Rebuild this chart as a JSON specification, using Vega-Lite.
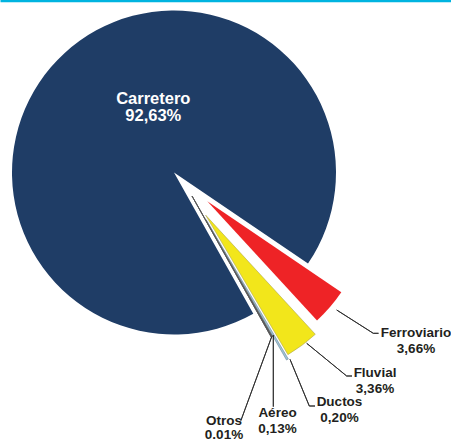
{
  "$schema": "https://vega.github.io/schema/vega-lite/v6.json",
  "width": 451,
  "height": 441,
  "padding": 0,
  "autosize": {"type": "none"},
  "background": "white",
  "config": {"view": {"stroke": null}, "text": {"font": "Liberation Sans"}},
  "data": {
    "values": [
      {"modo": "Carretero", "valor": 92.63, "etiqueta": "Carretero\n92,63%"},
      {"modo": "Ferroviario", "valor": 3.66, "etiqueta": "Ferroviario\n3,66%"},
      {"modo": "Fluvial", "valor": 3.36, "etiqueta": "Fluvial\n3,36%"},
      {"modo": "Ductos", "valor": 0.20, "etiqueta": "Ductos\n0,20%"},
      {"modo": "Aéreo", "valor": 0.13, "etiqueta": "Aéreo\n0,13%"},
      {"modo": "Otros", "valor": 0.01, "etiqueta": "Otros\n0.01%"}
    ]
  },
  "transform": [
    {"stack": "valor", "groupby": [], "sort": [{"field": "valor", "order": "descending"}], "as": ["t0", "t1"]}
  ],
  "layer": [
    {
      "mark": {"type": "point", "opacity": 0},
      "encoding": {
        "x": {"field": "valor", "type": "quantitative", "axis": {"orient": "top", "domain": true, "domainColor": "#00b4e0", "domainWidth": 3.5, "ticks": false, "labels": false, "grid": false, "title": null}}
      }
    },
    {
      "transform": [{"filter": "datum.modo == 'Carretero'"}],
      "mark": {"type": "arc", "radius": 162, "xOffset": -51.5, "yOffset": -48},
      "encoding": {
        "theta": {"field": "t0", "type": "quantitative", "stack": null, "scale": {"domain": [0, 99.99], "range": [2.630, 8.913185]}},
        "theta2": {"field": "t1"},
        "color": {"field": "modo", "type": "nominal", "legend": null, "scale": {"domain": ["Carretero", "Ferroviario", "Fluvial", "Ductos", "Aéreo", "Otros"], "range": ["#1f3d66", "#ee2326", "#f2e61b", "#9fc5d8", "#5a5a5a", "#9a9a9a"]}}
      }
    },
    {
      "transform": [{"filter": "datum.modo == 'Ferroviario'"}],
      "mark": {"type": "arc", "radius": 162, "xOffset": -18.2, "yOffset": -19.3},
      "encoding": {
        "theta": {"field": "t0", "type": "quantitative", "stack": null, "scale": {"domain": [0, 99.99], "range": [2.630, 8.913185]}},
        "theta2": {"field": "t1"},
        "color": {"field": "modo", "type": "nominal", "legend": null, "scale": {"domain": ["Carretero", "Ferroviario", "Fluvial", "Ductos", "Aéreo", "Otros"], "range": ["#1f3d66", "#ee2326", "#f2e61b", "#9fc5d8", "#5a5a5a", "#9a9a9a"]}}
      }
    },
    {
      "transform": [{"filter": "datum.modo == 'Fluvial'"}],
      "mark": {"type": "arc", "radius": 162, "xOffset": -19.9, "yOffset": -5.4, "stroke": "#a09a55", "strokeWidth": 0.5},
      "encoding": {
        "theta": {"field": "t0", "type": "quantitative", "stack": null, "scale": {"domain": [0, 99.99], "range": [2.630, 8.913185]}},
        "theta2": {"field": "t1"},
        "color": {"field": "modo", "type": "nominal", "legend": null, "scale": {"domain": ["Carretero", "Ferroviario", "Fluvial", "Ductos", "Aéreo", "Otros"], "range": ["#1f3d66", "#ee2326", "#f2e61b", "#9fc5d8", "#5a5a5a", "#9a9a9a"]}}
      }
    },
    {
      "transform": [{"filter": "datum.modo == 'Ductos'"}],
      "mark": {"type": "arc", "radius": 162, "xOffset": -19.5, "yOffset": -1, "stroke": "#6b8594", "strokeWidth": 0.6},
      "encoding": {
        "theta": {"field": "t0", "type": "quantitative", "stack": null, "scale": {"domain": [0, 99.99], "range": [2.630, 8.913185]}},
        "theta2": {"field": "t1"},
        "color": {"field": "modo", "type": "nominal", "legend": null, "scale": {"domain": ["Carretero", "Ferroviario", "Fluvial", "Ductos", "Aéreo", "Otros"], "range": ["#1f3d66", "#ee2326", "#f2e61b", "#9fc5d8", "#5a5a5a", "#9a9a9a"]}}
      }
    },
    {
      "transform": [{"filter": "datum.modo == 'Aéreo' || datum.modo == 'Otros'"}],
      "mark": {"type": "arc", "radius": 162, "xOffset": -33.5, "yOffset": -24.5, "stroke": "#555555", "strokeWidth": 0.7},
      "encoding": {
        "theta": {"field": "t0", "type": "quantitative", "stack": null, "scale": {"domain": [0, 99.99], "range": [2.630, 8.913185]}},
        "theta2": {"field": "t1"},
        "color": {"field": "modo", "type": "nominal", "legend": null, "scale": {"domain": ["Carretero", "Ferroviario", "Fluvial", "Ductos", "Aéreo", "Otros"], "range": ["#1f3d66", "#ee2326", "#f2e61b", "#9fc5d8", "#5a5a5a", "#9a9a9a"]}}
      }
    },
    {
      "transform": [{"filter": "datum.modo == 'Ferroviario'"}],
      "mark": {"type": "arc", "radius": 43.4, "radius2": 0, "theta": 2.138, "theta2": 2.138, "xOffset": 111.2, "yOffset": 89.5, "fillOpacity": 0, "stroke": "#2b2b2b", "strokeWidth": 0.9},
      "encoding": {}
    },
    {
      "transform": [{"filter": "datum.modo == 'Ferroviario'"}],
      "mark": {"type": "arc", "radius": 5.2, "radius2": 0, "theta": 1.5708, "theta2": 1.5708, "xOffset": 147.8, "yOffset": 112.8, "fillOpacity": 0, "stroke": "#2b2b2b", "strokeWidth": 0.9},
      "encoding": {}
    },
    {
      "transform": [{"filter": "datum.modo == 'Fluvial'"}],
      "mark": {"type": "arc", "radius": 51.7, "radius2": 0, "theta": 2.2567, "theta2": 2.2567, "xOffset": 81.2, "yOffset": 122.8, "fillOpacity": 0, "stroke": "#2b2b2b", "strokeWidth": 0.9},
      "encoding": {}
    },
    {
      "transform": [{"filter": "datum.modo == 'Fluvial'"}],
      "mark": {"type": "arc", "radius": 5.3, "radius2": 0, "theta": 1.5708, "theta2": 1.5708, "xOffset": 121.2, "yOffset": 155.5, "fillOpacity": 0, "stroke": "#2b2b2b", "strokeWidth": 0.9},
      "encoding": {}
    },
    {
      "transform": [{"filter": "datum.modo == 'Ductos'"}],
      "mark": {"type": "arc", "radius": 50.5, "radius2": 0, "theta": 2.7498, "theta2": 2.7498, "xOffset": 64.5, "yOffset": 138.8, "fillOpacity": 0, "stroke": "#2b2b2b", "strokeWidth": 0.9},
      "encoding": {}
    },
    {
      "transform": [{"filter": "datum.modo == 'Ductos'"}],
      "mark": {"type": "arc", "radius": 5.7, "radius2": 0, "theta": 1.5708, "theta2": 1.5708, "xOffset": 83.8, "yOffset": 185.5, "fillOpacity": 0, "stroke": "#2b2b2b", "strokeWidth": 0.9},
      "encoding": {}
    },
    {
      "transform": [{"filter": "datum.modo == 'Aéreo'"}],
      "mark": {"type": "arc", "radius": 71.7, "radius2": 0, "theta": 3.1416, "theta2": 3.1416, "xOffset": 47.8, "yOffset": 114.5, "fillOpacity": 0, "stroke": "#2b2b2b", "strokeWidth": 0.9},
      "encoding": {}
    },
    {
      "transform": [{"filter": "datum.modo == 'Otros'"}],
      "mark": {"type": "arc", "radius": 89.5, "radius2": 0, "theta": 3.4937, "theta2": 3.4937, "xOffset": 46.2, "yOffset": 116.2, "fillOpacity": 0, "stroke": "#2b2b2b", "strokeWidth": 0.9},
      "encoding": {}
    },
    {
      "transform": [{"filter": "datum.modo == 'Carretero'"}],
      "mark": {"type": "text", "lineBreak": "\n", "align": "center", "baseline": "alphabetic", "fontSize": 16.5, "fontWeight": "bold", "lineHeight": 17, "color": "white", "xOffset": -72.2, "yOffset": -116.5},
      "encoding": {"text": {"field": "etiqueta"}}
    },
    {
      "transform": [{"filter": "datum.modo == 'Ferroviario'"}],
      "mark": {"type": "text", "lineBreak": "\n", "align": "center", "baseline": "alphabetic", "fontSize": 13.5, "fontWeight": "bold", "lineHeight": 15.5, "color": "#231f20", "xOffset": 190.5, "yOffset": 116.5},
      "encoding": {"text": {"field": "etiqueta"}}
    },
    {
      "transform": [{"filter": "datum.modo == 'Fluvial'"}],
      "mark": {"type": "text", "lineBreak": "\n", "align": "center", "baseline": "alphabetic", "fontSize": 13.5, "fontWeight": "bold", "lineHeight": 16, "color": "#231f20", "xOffset": 149.5, "yOffset": 156.5},
      "encoding": {"text": {"field": "etiqueta"}}
    },
    {
      "transform": [{"filter": "datum.modo == 'Ductos'"}],
      "mark": {"type": "text", "lineBreak": "\n", "align": "center", "baseline": "alphabetic", "fontSize": 13.5, "fontWeight": "bold", "lineHeight": 15.7, "color": "#231f20", "xOffset": 114, "yOffset": 185.5},
      "encoding": {"text": {"field": "etiqueta"}}
    },
    {
      "transform": [{"filter": "datum.modo == 'Aéreo'"}],
      "mark": {"type": "text", "lineBreak": "\n", "align": "center", "baseline": "alphabetic", "fontSize": 13.5, "fontWeight": "bold", "lineHeight": 16, "color": "#231f20", "xOffset": 52, "yOffset": 196.5},
      "encoding": {"text": {"field": "etiqueta"}}
    },
    {
      "transform": [{"filter": "datum.modo == 'Otros'"}],
      "mark": {"type": "text", "lineBreak": "\n", "align": "center", "baseline": "alphabetic", "fontSize": 13.5, "fontWeight": "bold", "lineHeight": 14, "color": "#231f20", "xOffset": -1.5, "yOffset": 204}
      ,
      "encoding": {"text": {"field": "etiqueta"}}
    }
  ]
}
